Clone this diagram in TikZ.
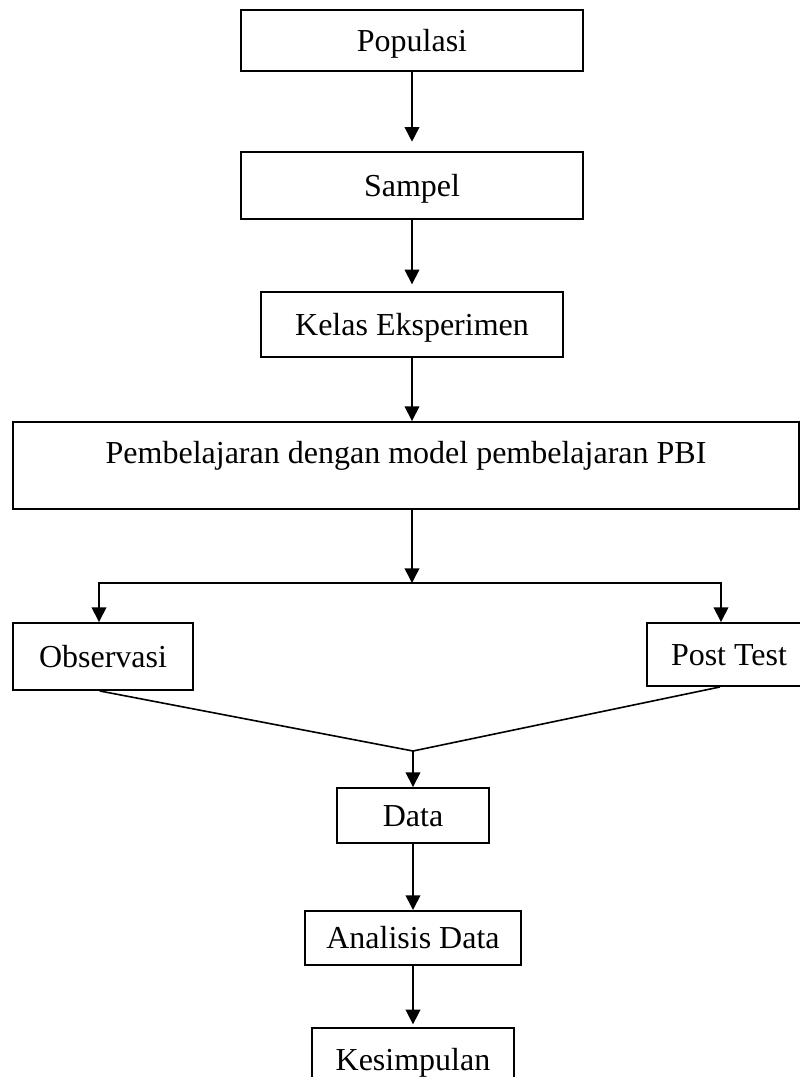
\documentclass[tikz,border=0pt]{standalone}
\usepackage{fontspec}
\setmainfont{Liberation Serif}
\usetikzlibrary{arrows.meta, positioning, calc}

\begin{document}
\begin{tikzpicture}[x=0.375pt, y=-0.375pt,
  every node/.style={font=\fontsize{12}{14}\selectfont},
  box/.style={draw, line width=0.75pt, inner sep=0pt, text height=8pt, text depth=0pt},
  arr/.style={line width=0.6pt, -{Triangle[length=5.5pt, width=5.5pt]}},
  link/.style={line width=0.6pt}]
\useasboundingbox (0,0) rectangle (800,1077);
\node[box, minimum width=128.25pt, minimum height=22.9pt] (pop) at (412,40.5) {Populasi};
\node[box, minimum width=128.25pt, minimum height=25.1pt] (sam) at (412,185.5) {Sampel};
\node[box, minimum width=113.6pt, minimum height=24.4pt] (kelas) at (412,324.5) {Kelas Eksperimen};
\node[box, minimum width=294.75pt, minimum height=32.6pt, text depth=9.4pt] (pbi) at (406,465.5) {Pembelajaran dengan model pembelajaran PBI};
\node[box, minimum width=67.5pt, minimum height=25.1pt] (obs) at (103,656.5) {Observasi};
\node[box, minimum width=61.5pt, minimum height=23.6pt] (post) at (729,654.5) {Post Test};
\node[box, minimum width=57pt, minimum height=20.6pt] (data) at (413,815.5) {Data};
\node[box, minimum width=81pt, minimum height=20.25pt] (ana) at (413,938) {Analisis Data};
\node[box, minimum width=75.75pt, minimum height=24pt] (kes) at (413,1060) {Kesimpulan};
\coordinate (split) at (412,583);
\coordinate (join) at (413,751);

\draw[arr, shorten >=3.5pt] (pop) -- (sam);
\draw[arr, shorten >=2.5pt] (sam) -- (kelas);
\draw[arr] (kelas) -- (kelas |- pbi.north);
\draw[arr] (pbi.south -| split) -- (split);
\draw[arr] (split) -| ([xshift=-1.5pt]obs.north);
\draw[arr] (split) -| ([xshift=-3pt]post.north);
\draw[link] ([xshift=-1.2pt]obs.south) -- (join) -- ([xshift=-3.4pt]post.south);
\draw[arr] (join) -- (data);
\draw[arr] (data) -- (ana);
\draw[arr, shorten >=1pt] (ana) -- (kes);
\end{tikzpicture}
\end{document}
